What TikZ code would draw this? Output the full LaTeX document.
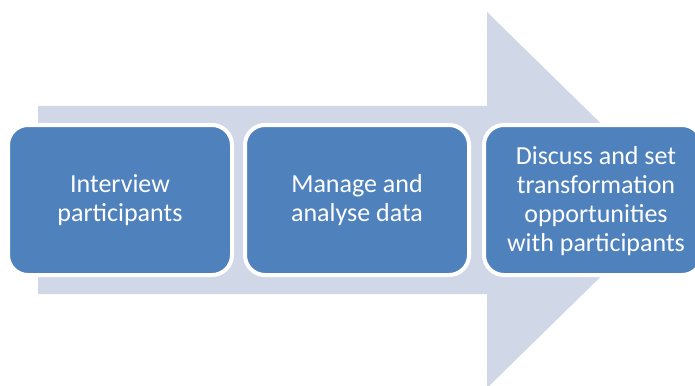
\documentclass[tikz,border=0pt]{standalone}
\usepackage{fontspec}
\setmainfont{Carlito}
\definecolor{arrowfill}{HTML}{D0D8E8}
\definecolor{boxfill}{HTML}{4F81BD}
\begin{document}
\begin{tikzpicture}[x=1pt,y=-1pt,
  stepbox/.style={draw=white, line width=4pt, fill=boxfill, rounded corners=20pt},
  steptext/.style={text=white, align=center, font=\fontsize{26}{29}\selectfont}]
\useasboundingbox (0,0) rectangle (695,385);
\clip (0,0) rectangle (695,385);
\fill[white] (0,0) rectangle (695,385);
% big arrow
\fill[arrowfill] (38,106) -- (487,106) -- (487,12) -- (679,200) -- (487,388) -- (487,294) -- (38,294) -- cycle;
% boxes
\draw[stepbox] (8,125) rectangle (232,275);
\draw[stepbox] (245,125) rectangle (469,275);
\draw[stepbox] (484,125) rectangle (702,275);
\node[steptext] (s1) at (120,200) {Interview\\participants};
\node[steptext] (s2) at (357,200) {Manage and\\analyse data};
\node[steptext] (s3) at (596,201) {Discuss and set\\transformation\\opportunities\\with participants};
\end{tikzpicture}
\end{document}
